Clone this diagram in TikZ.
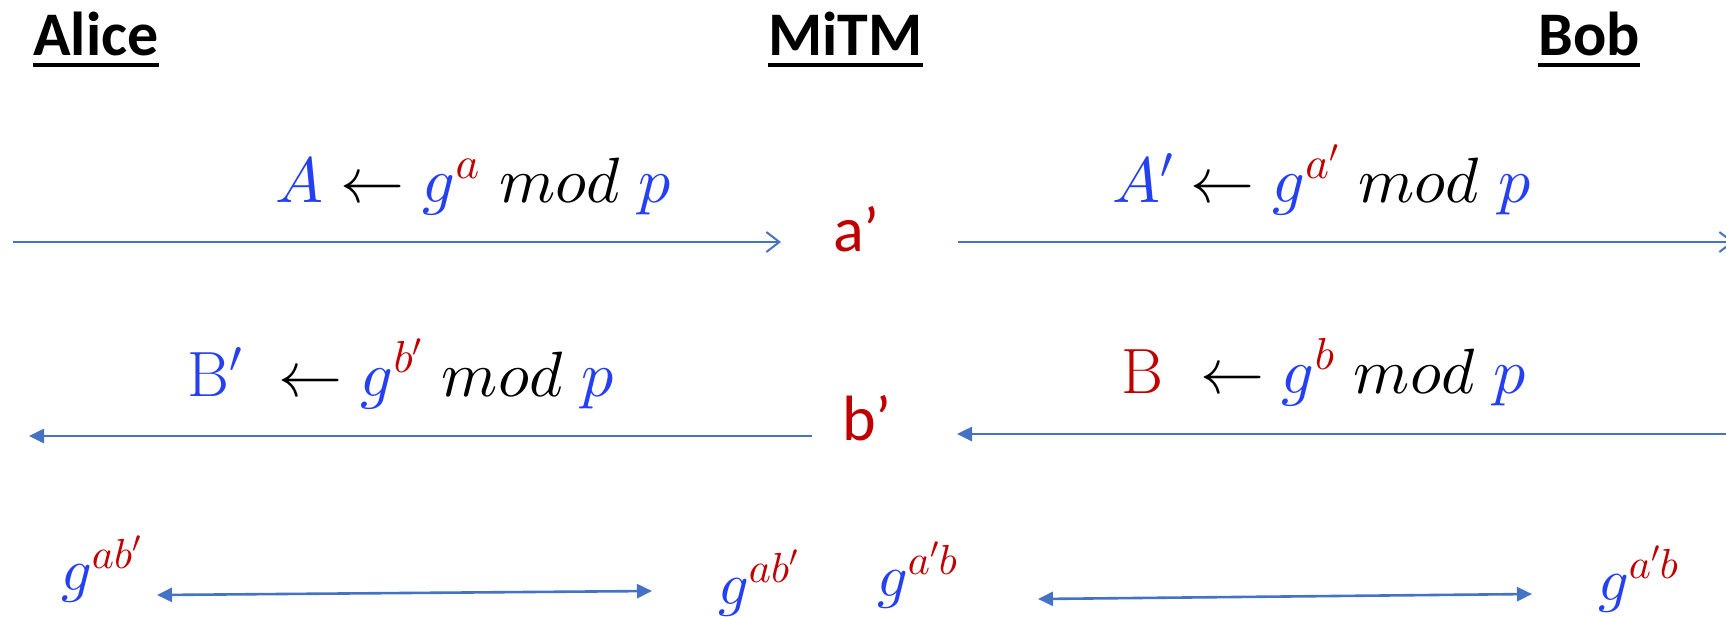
\documentclass[tikz,border=0pt]{standalone}
\usepackage{fontspec}
\newfontfamily\carlito{Carlito}
\usetikzlibrary{arrows.meta}
\DeclareFontFamily{OML}{mycmm}{\skewchar\font127}
\DeclareFontShape{OML}{mycmm}{m}{it}{<->cmmi10}{}
\DeclareSymbolFont{letters}{OML}{mycmm}{m}{it}
\DeclareFontFamily{OMS}{mycmsy}{\skewchar\font48}
\DeclareFontShape{OMS}{mycmsy}{m}{n}{<->cmsy10}{}
\DeclareSymbolFont{symbols}{OMS}{mycmsy}{m}{n}
\definecolor{tblue}{RGB}{36,64,240}
\definecolor{tred}{RGB}{192,0,0}
\definecolor{abl}{RGB}{68,114,196}
\newcommand\cbl[1]{{\color{tblue}#1}}
\newcommand\crd[1]{{\color{tred}#1}}
\begin{document}
\begin{tikzpicture}[x=1pt,y=-1pt,
  title/.style={anchor=base west,inner sep=0pt,font=\carlito\bfseries\fontsize{62}{70}\selectfont},
  uline/.style={line width=3.5pt,black},
  eq/.style={anchor=base west,inner sep=0pt,font=\fontsize{64}{70}\selectfont},
  midlbl/.style={anchor=base west,inner sep=0pt,text=tred,font=\carlito\fontsize{64}{70}\selectfont},
  keylbl/.style={anchor=base west,inner sep=0pt,font=\fontsize{60}{66}\selectfont},
  sendarrow/.style={draw=abl,line width=2.2pt,-{Straight Barb[length=13pt,width=20pt,line width=2pt]}},
  backarrow/.style={draw=abl,line width=2.6pt,-{Triangle[length=15pt,width=14pt]}},
  keyarrow/.style={draw=abl,line width=2.6pt,{Triangle[length=15pt,width=14pt]}-{Triangle[length=15pt,width=14pt]}}
]
\useasboundingbox (0,0) rectangle (1726,616);

% titles
\node[title] (alice) at (33,55) {Alice};
\node[title] (mitm) at (768,55) {MiTM};
\node[title] (bob) at (1538,55) {Bob};
\foreach \n in {alice,mitm,bob}
  \draw[uline] ([yshift=-10pt]\n.base west) -- ([yshift=-10pt]\n.base east);

% equations
\node[eq] (m1) at (275,202) {$\cbl{A}\leftarrow\cbl{g}^{\crd{a}}\ mod\ \cbl{p}$};
\node[eq] (m2) at (1112,202) {$\cbl{A'}\leftarrow\cbl{g}^{\crd{a'}}\ mod\ \cbl{p}$};
\node[eq] (m3) at (187,396) {$\cbl{\mathrm{B}'}\ \leftarrow\cbl{g}^{\crd{b'}}\ mod\ \cbl{p}$};
\node[eq] (m4) at (1121,393) {$\crd{\mathrm{B}}\ \leftarrow\cbl{g}^{\crd{b}}\ mod\ \cbl{p}$};

% MiTM secrets
\node[midlbl] (ap) at (833,251) {a’};
\node[midlbl] (bp) at (842,440) {b’};

% shared keys
\node[keylbl] (k1) at (61,590) {$\cbl{g}^{\crd{ab'}}$};
\node[keylbl] (k2) at (718,604) {$\cbl{g}^{\crd{ab'}}$};
\node[keylbl] (k3) at (877,596) {$\cbl{g}^{\crd{a'b}}$};
\node[keylbl] (k4) at (1598,600) {$\cbl{g}^{\crd{a'b}}$};

% arrow end points
\coordinate (r1a) at (13,242);
\coordinate (r1b) at (781,242);
\coordinate (r1c) at (958,242);
\coordinate (r1d) at (1734,242);
\coordinate (r2a) at (812,436);
\coordinate (r2b) at (29,436);
\coordinate (r2c) at (1730,434);
\coordinate (r2d) at (957,434);
\coordinate (r3a) at (157,595);
\coordinate (r3b) at (652,591);
\coordinate (r3c) at (1038,599);
\coordinate (r3d) at (1532,594);

\draw[sendarrow] (r1a) -- (r1b);
\draw[sendarrow] (r1c) -- (r1d);
\draw[backarrow] (r2a) -- (r2b);
\draw[backarrow] (r2c) -- (r2d);
\draw[keyarrow] (r3a) -- (r3b);
\draw[keyarrow] (r3c) -- (r3d);
\end{tikzpicture}
\end{document}
